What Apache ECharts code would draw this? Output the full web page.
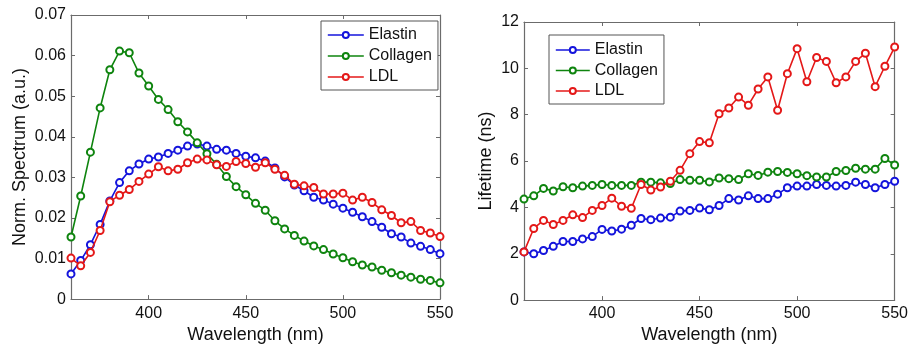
<!DOCTYPE html>
<html>
<head>
<meta charset="utf-8">
<script src="https://cdn.jsdelivr.net/npm/echarts@6/dist/echarts.min.js"></script>
<style>
  html, body { margin: 0; padding: 0; background: #fff; }
  #chart { width: 911px; height: 349px; }
</style>
</head>
<body>
<div id="chart"></div>
<script>
// Excitation wavelength samples (nm)
const wavelengths = [360, 365, 370, 375, 380, 385, 390, 395, 400, 405, 410, 415, 420, 425, 430, 435, 440, 445, 450, 455,
  460, 465, 470, 475, 480, 485, 490, 495, 500, 505, 510, 515, 520, 525, 530, 535, 540, 545, 550];

// Normalized emission spectra (a.u.)
const spectrumElastin = [0.0062, 0.0095, 0.0134, 0.0184, 0.0242, 0.0287, 0.0316, 0.0333, 0.0345, 0.0350, 0.0359, 0.0367, 0.0377,
  0.0382, 0.0377, 0.0369, 0.0367, 0.0359, 0.0352, 0.0348, 0.0340, 0.0323, 0.0301, 0.0281, 0.0267, 0.0251, 0.0244, 0.0234,
  0.0224, 0.0214, 0.0203, 0.0191, 0.0177, 0.0161, 0.0153, 0.0138, 0.0130, 0.0122, 0.0112];
const spectrumCollagen = [0.0153, 0.0254, 0.0362, 0.0471, 0.0565, 0.0611, 0.0607, 0.0557, 0.0525, 0.0492, 0.0467, 0.0437, 0.0412,
  0.0385, 0.0358, 0.0332, 0.0302, 0.0277, 0.0257, 0.0236, 0.0219, 0.0193, 0.0173, 0.0157, 0.0143, 0.0131, 0.0122, 0.0111,
  0.0102, 0.0092, 0.0084, 0.0079, 0.0071, 0.0065, 0.0059, 0.0054, 0.0049, 0.0046, 0.0040];
const spectrumLDL = [0.0101, 0.0082, 0.0115, 0.0169, 0.0240, 0.0256, 0.0270, 0.0290, 0.0308, 0.0326, 0.0316, 0.0320, 0.0336,
  0.0345, 0.0343, 0.0331, 0.0327, 0.0339, 0.0334, 0.0325, 0.0336, 0.0320, 0.0305, 0.0283, 0.0279, 0.0275, 0.0259, 0.0259,
  0.0261, 0.0244, 0.0251, 0.0238, 0.0220, 0.0206, 0.0188, 0.0191, 0.0169, 0.0163, 0.0154];

// Fluorescence lifetimes (ns)
const lifetimeElastin = [2.08, 2.00, 2.14, 2.32, 2.53, 2.53, 2.64, 2.74, 3.05, 2.98, 3.06, 3.23, 3.52, 3.47, 3.54, 3.58, 3.84,
  3.87, 3.97, 3.90, 4.08, 4.38, 4.32, 4.50, 4.38, 4.38, 4.57, 4.85, 4.92, 4.92, 4.99, 4.95, 4.92, 4.95, 5.09, 4.99, 4.85, 4.99, 5.13];
const lifetimeCollagen = [4.36, 4.50, 4.82, 4.71, 4.89, 4.85, 4.92, 4.95, 4.99, 4.95, 4.95, 4.95, 5.09, 5.09, 5.06, 5.03, 5.20,
  5.17, 5.17, 5.10, 5.27, 5.24, 5.20, 5.45, 5.38, 5.52, 5.55, 5.51, 5.45, 5.37, 5.31, 5.31, 5.55, 5.59, 5.69, 5.65, 5.65, 6.11, 5.83];
const lifetimeLDL = [2.08, 3.09, 3.44, 3.26, 3.44, 3.68, 3.56, 3.87, 4.08, 4.40, 4.05, 3.96, 4.99, 4.75, 4.88, 5.13, 5.60,
  6.32, 6.84, 6.79, 8.04, 8.29, 8.76, 8.41, 9.11, 9.63, 8.19, 9.77, 10.85, 9.42, 10.47, 10.30, 9.38, 9.63, 10.30, 10.65, 9.21, 10.09, 10.92];

const seriesNames = ['Elastin', 'Collagen', 'LDL'];
const xTicks = [400, 450, 500, 550];

const colors = { Elastin: '#1414dc', Collagen: '#0e840e', LDL: '#e41818' };
const FONT = '"Liberation Sans", Arial, sans-serif';
const AXIS_COLOR = '#6b6b6b';

function pairs(values) {
  return wavelengths.map((w, i) => [w, values[i]]);
}

function lineSeries(name, values, axisIndex) {
  return {
    name: name,
    type: 'line',
    xAxisIndex: axisIndex,
    yAxisIndex: axisIndex,
    data: pairs(values),
    symbol: 'emptyCircle',
    symbolSize: 7,
    showAllSymbol: true,
    color: colors[name],
    lineStyle: { width: 1.6, color: colors[name] },
    itemStyle: { color: colors[name], borderColor: colors[name], borderWidth: 1.3 },
    emphasis: { disabled: true },
    animation: false,
    z: name === 'LDL' ? 4 : (name === 'Collagen' ? 3 : 2)
  };
}

function xAxisPair(gridIndex, labelMargin, nameGap) {
  const common = {
    type: 'value', gridIndex: gridIndex, min: 360, max: 550,
    splitLine: { show: false },
    axisLine: { show: true, onZero: false, lineStyle: { color: AXIS_COLOR, width: 1.2 } }
  };
  return [
    Object.assign({}, common, {
      position: 'bottom',
      name: 'Wavelength (nm)', nameLocation: 'middle', nameGap: nameGap,
      nameTextStyle: { fontFamily: FONT, fontSize: 18, color: '#111' },
      axisTick: { show: true, inside: true, length: 4, customValues: xTicks, lineStyle: { color: AXIS_COLOR } },
      axisLabel: { show: true, customValues: xTicks, margin: labelMargin, fontFamily: FONT, fontSize: 16, color: '#111' }
    }),
    Object.assign({}, common, {
      position: 'top',
      axisTick: { show: true, inside: true, length: 4, customValues: xTicks, lineStyle: { color: AXIS_COLOR } },
      axisLabel: { show: false }
    })
  ];
}

function yAxisPair(gridIndex, min, max, interval, title, nameGap) {
  const common = {
    type: 'value', gridIndex: gridIndex, min: min, max: max, interval: interval,
    splitLine: { show: false },
    axisLine: { show: true, onZero: false, lineStyle: { color: AXIS_COLOR, width: 1.2 } },
    axisTick: { show: true, inside: true, length: 4, lineStyle: { color: AXIS_COLOR } }
  };
  return [
    Object.assign({}, common, {
      position: 'left',
      name: title, nameLocation: 'middle', nameGap: nameGap,
      nameTextStyle: { fontFamily: FONT, fontSize: 18, color: '#111' },
      axisLabel: { show: true, margin: 5, fontFamily: FONT, fontSize: 16, color: '#111' }
    }),
    Object.assign({}, common, { position: 'right', axisLabel: { show: false } })
  ];
}

// Legend markers are drawn at 80% of itemHeight, so a short itemHeight keeps them small
function legendBox(left, top, itemWidth, itemGap, padTop) {
  return {
    orient: 'vertical',
    left: left, top: top,
    data: seriesNames,
    itemWidth: itemWidth, itemHeight: 7.5, itemGap: itemGap,
    padding: [padTop, 6, 5, 6],
    backgroundColor: '#fff',
    borderColor: '#555',
    borderWidth: 1,
    borderRadius: 0,
    selectedMode: false,
    itemStyle: { borderWidth: 1.2 },
    lineStyle: { width: 1.6 },
    textStyle: { fontFamily: FONT, fontSize: 16, color: '#111' }
  };
}

const chart = echarts.init(document.getElementById('chart'), null, { renderer: 'canvas' });

chart.setOption({
  backgroundColor: '#fff',
  animation: false,
  grid: [
    { left: 71, right: 471, top: 15, bottom: 48 },
    { left: 524, right: 16, top: 22, bottom: 42 }
  ],
  xAxis: [].concat(xAxisPair(0, 6, 23), xAxisPair(1, 5, 22)),
  yAxis: [].concat(
    yAxisPair(0, 0, 0.07, 0.01, 'Norm. Spectrum (a.u.)', 42),
    yAxisPair(1, 0, 12, 2, 'Lifetime (ns)', 29)
  ),
  legend: [
    legendBox(321, 21, 36, 5, 6),
    legendBox(549, 35, 34, 4.5, 7)
  ],
  series: [
    lineSeries('Elastin', spectrumElastin, 0),
    lineSeries('Collagen', spectrumCollagen, 0),
    lineSeries('LDL', spectrumLDL, 0),
    lineSeries('Elastin', lifetimeElastin, 2),
    lineSeries('Collagen', lifetimeCollagen, 2),
    lineSeries('LDL', lifetimeLDL, 2)
  ]
});
</script>
</body>
</html>
